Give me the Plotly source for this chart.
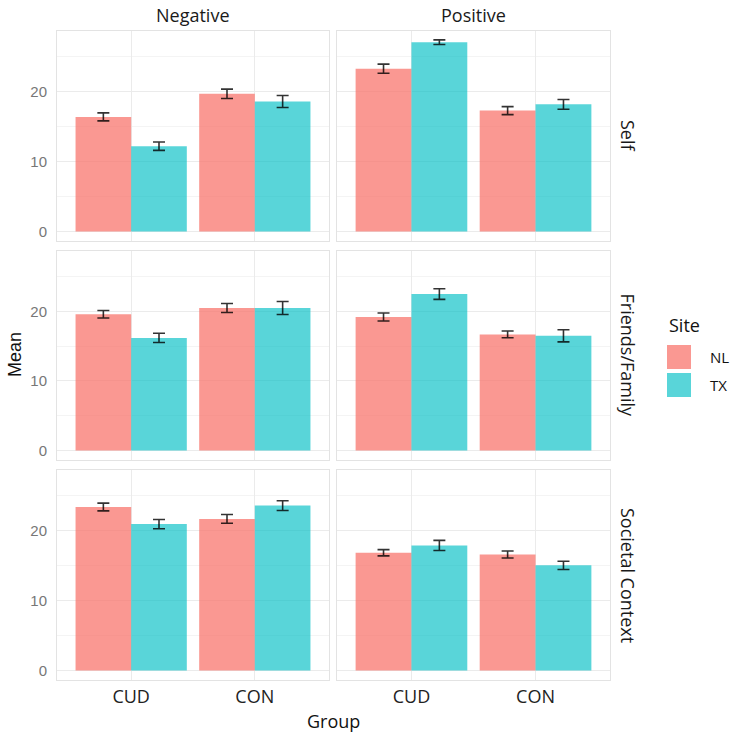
import plotly.graph_objects as go
from plotly.subplots import make_subplots

# ---- data ----
frames = ["Negative", "Positive"]
targets = ["Self", "Friends/Family", "Societal Context"]
groups = ["CUD", "CON"]
sites = ["NL", "TX"]

# means per panel -> [CUD, CON]
nl_self_neg = [16.4, 19.7]
tx_self_neg = [12.2, 18.6]
nl_self_pos = [23.3, 17.3]
tx_self_pos = [27.1, 18.2]
nl_ff_neg = [19.6, 20.5]
tx_ff_neg = [16.2, 20.5]
nl_ff_pos = [19.2, 16.7]
tx_ff_pos = [22.5, 16.5]
nl_sc_neg = [23.4, 21.7]
tx_sc_neg = [20.95, 23.6]
nl_sc_pos = [16.85, 16.6]
tx_sc_pos = [17.9, 15.05]

# standard errors
nl_self_neg_se = [0.57, 0.67]
tx_self_neg_se = [0.6, 0.86]
nl_self_pos_se = [0.65, 0.57]
tx_self_pos_se = [0.33, 0.7]
nl_ff_neg_se = [0.55, 0.64]
tx_ff_neg_se = [0.67, 0.93]
nl_ff_pos_se = [0.57, 0.48]
tx_ff_pos_se = [0.76, 0.88]
nl_sc_neg_se = [0.55, 0.62]
tx_sc_neg_se = [0.66, 0.69]
nl_sc_pos_se = [0.45, 0.5]
tx_sc_pos_se = [0.73, 0.59]

y_ticks = [0, 10, 20]

panels = {
    ("Self", "Negative"): (nl_self_neg, tx_self_neg, nl_self_neg_se, tx_self_neg_se),
    ("Self", "Positive"): (nl_self_pos, tx_self_pos, nl_self_pos_se, tx_self_pos_se),
    ("Friends/Family", "Negative"): (nl_ff_neg, tx_ff_neg, nl_ff_neg_se, tx_ff_neg_se),
    ("Friends/Family", "Positive"): (nl_ff_pos, tx_ff_pos, nl_ff_pos_se, tx_ff_pos_se),
    ("Societal Context", "Negative"): (nl_sc_neg, tx_sc_neg, nl_sc_neg_se, tx_sc_neg_se),
    ("Societal Context", "Positive"): (nl_sc_pos, tx_sc_pos, nl_sc_pos_se, tx_sc_pos_se),
}

# ---- style ----
W, H = 731, 734
col_nl = "rgba(248,118,109,0.75)"
col_tx = "rgba(0,191,196,0.65)"
err_col = "rgba(0,0,0,0.8)"
grid_major = "#EBEBEB"
grid_minor = "#F4F4F4"
border = "#E3E3E3"
txt_font = "Open Sans"
num_font = "Liberation Sans"

# panel pixel boxes
col_px = [(57, 329), (337, 610)]
row_px = [(31, 241), (251, 460), (470, 680)]

fig = make_subplots(rows=3, cols=2)

for r, t in enumerate(targets):
    for c, f in enumerate(frames):
        nl, tx, nlse, txse = panels[(t, f)]
        for s, vals, se, col in [("NL", nl, nlse, col_nl), ("TX", tx, txse, col_tx)]:
            fig.add_trace(
                go.Bar(
                    x=groups, y=vals, name=s, marker=dict(color=col, line=dict(width=0)),
                    error_y=dict(type="data", array=se, visible=True, color=err_col,
                                 thickness=1.6, width=6),
                    showlegend=False,
                ),
                row=r + 1, col=c + 1,
            )

fig.update_layout(
    width=W, height=H, margin=dict(l=0, r=0, t=0, b=0),
    paper_bgcolor="white", plot_bgcolor="white",
    barmode="group", bargap=0.1, bargroupgap=0,
    showlegend=False,
)

idx = 0
for r in range(3):
    for c in range(2):
        idx += 1
        xa = "xaxis" if idx == 1 else f"xaxis{idx}"
        ya = "yaxis" if idx == 1 else f"yaxis{idx}"
        x0, x1 = col_px[c]
        y0, y1 = row_px[r]
        fig.layout[xa].update(
            domain=[x0 / W, x1 / W], range=[-0.6, 1.6], type="category",
            showgrid=True, gridcolor=grid_major, gridwidth=1,
            showline=True, mirror=True, linecolor=border, linewidth=1,
            ticks="", showticklabels=(r == 2),
            tickfont=dict(family=txt_font, size=18, color="#222222"),
            zeroline=False,
        )
        fig.layout[ya].update(
            domain=[1 - y1 / H, 1 - y0 / H], range=[-1.37, 28.7],
            tickvals=y_ticks, showgrid=True, gridcolor=grid_major, gridwidth=1,
            minor=dict(dtick=5, tick0=5, showgrid=True, gridcolor=grid_minor, gridwidth=1),
            showline=True, mirror=True, linecolor=border, linewidth=1,
            ticks="", showticklabels=(c == 0), ticklabelstandoff=6,
            tickfont=dict(family=num_font, size=15, color="#777777"),
            zeroline=False,
        )

ann = []
# column strips
for c, f in enumerate(frames):
    x0, x1 = col_px[c]
    ann.append(dict(x=(x0 + x1) / 2 / W, y=1 - 15 / H, xref="paper", yref="paper",
                    text=f, showarrow=False, font=dict(family=txt_font, size=18, color="#1A1A1A"),
                    xanchor="center", yanchor="middle"))
# row strips
for r, t in enumerate(targets):
    y0, y1 = row_px[r]
    ann.append(dict(x=628 / W, y=1 - (y0 + y1) / 2 / H, xref="paper", yref="paper",
                    text=t, showarrow=False, textangle=90,
                    font=dict(family=txt_font, size=18, color="#1A1A1A"),
                    xanchor="center", yanchor="middle"))
# axis titles
ann.append(dict(x=15 / W, y=1 - 355 / H, xref="paper", yref="paper", text="Mean",
                showarrow=False, textangle=-90, font=dict(family=num_font, size=18, color="#111111"),
                xanchor="center", yanchor="middle"))
ann.append(dict(x=333 / W, y=1 - 721 / H, xref="paper", yref="paper", text="Group",
                showarrow=False, font=dict(family=txt_font, size=18, color="#111111"),
                xanchor="center", yanchor="middle"))
# legend
ann.append(dict(x=667 / W, y=1 - 325 / H, xref="paper", yref="paper", text="Site",
                showarrow=False, font=dict(family=txt_font, size=18, color="#111111"),
                xanchor="left", yanchor="middle"))
shapes = []
for i, (s, col) in enumerate(zip(sites, [col_nl, col_tx])):
    ty = 345 + i * 28
    shapes.append(dict(type="rect", xref="paper", yref="paper",
                       x0=667 / W, x1=691 / W, y0=1 - (ty + 24) / H, y1=1 - ty / H,
                       fillcolor=col, line=dict(width=0)))
    ann.append(dict(x=708 / W, y=1 - (ty + 12) / H, xref="paper", yref="paper", text=s,
                    showarrow=False, font=dict(family=txt_font, size=15, color="#111111"),
                    xanchor="left", yanchor="middle"))

fig.update_layout(annotations=ann, shapes=shapes)
fig.write_html(
    "out.html",
    config={"displayModeBar": False},
    post_script="document.body.style.margin='0';document.body.style.overflow='hidden';",
)
